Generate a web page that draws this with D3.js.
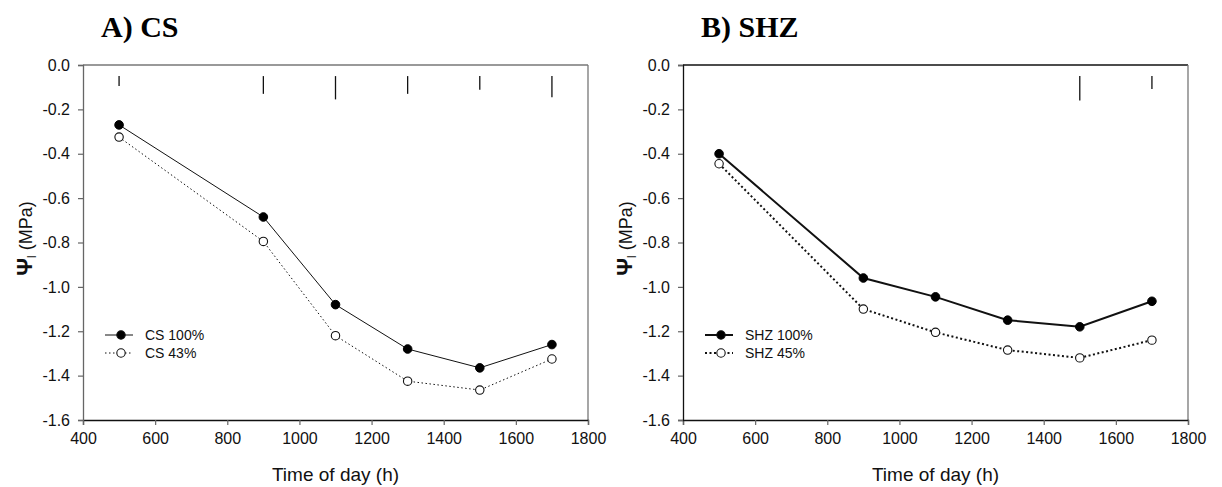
<!DOCTYPE html>
<html>
<head>
<meta charset="utf-8">
<script src="https://cdn.jsdelivr.net/npm/d3@7"></script>
<style>
  html, body { margin: 0; padding: 0; background: #fff; }
  svg { display: block; font-family: "Liberation Sans", Arial, sans-serif; }
</style>
</head>
<body>
<svg id="chart" width="1222" height="487"></svg>
<script>
// Sampling times (h)
const times = [500, 900, 1100, 1300, 1500, 1700];

// Leaf water potential (MPa), cultivar CS
const cs100 = [-0.27, -0.685, -1.08, -1.28, -1.365, -1.26];
const cs43  = [-0.325, -0.795, -1.22, -1.425, -1.465, -1.325];

// Leaf water potential (MPa), cultivar SHZ
const shz100 = [-0.40, -0.96, -1.045, -1.15, -1.18, -1.065];
const shz45  = [-0.445, -1.10, -1.205, -1.285, -1.32, -1.24];

// LSD bars drawn along the top of each panel
const csLsdTimes = [500, 900, 1100, 1300, 1500, 1700];
const csLsd = [0.045, 0.08, 0.105, 0.08, 0.062, 0.095];
const shzLsdTimes = [1500, 1700];
const shzLsd = [0.11, 0.058];
const lsdTop = -0.05;

// Axis ticks
const xTicks = [400, 600, 800, 1000, 1200, 1400, 1600, 1800];
const yTicks = [0, -0.2, -0.4, -0.6, -0.8, -1.0, -1.2, -1.4, -1.6];

const svg = d3.select("#chart");

function panel(opts) {
  const { left, right, top, bottom } = opts;
  const x = d3.scaleLinear().domain([400, 1800]).range([left, right]);
  const y = d3.scaleLinear().domain([-1.6, 0]).range([bottom, top]);
  const g = svg.append("g");

  // frame: top and right edges
  g.append("line").attr("x1", left).attr("x2", right).attr("y1", top).attr("y2", top)
    .attr("stroke", opts.topColor).attr("stroke-width", 1.3);
  g.append("line").attr("x1", right).attr("x2", right).attr("y1", top).attr("y2", bottom)
    .attr("stroke", "#777").attr("stroke-width", 1.3);

  // x axis
  const xa = g.append("g").attr("transform", `translate(0,${bottom})`)
    .call(d3.axisBottom(x).tickValues(xTicks).tickFormat(d3.format("d")).tickSizeOuter(0).tickSize(5).tickPadding(8));
  xa.select(".domain").attr("stroke", "#111").attr("stroke-width", 1.3);
  xa.selectAll(".tick line").attr("stroke", "#666").attr("stroke-width", 1.2);
  xa.selectAll(".tick text").attr("font-size", 16).attr("fill", "#111")
    .attr("font-family", "Liberation Sans, Arial, sans-serif");

  // y axis
  const ya = g.append("g").attr("transform", `translate(${left},0)`)
    .call(d3.axisLeft(y).tickValues(yTicks).tickFormat(d3.format(".1f")).tickSizeOuter(0).tickSize(5).tickPadding(8));
  ya.select(".domain").attr("stroke", opts.yAxisColor).attr("stroke-width", 1.3);
  ya.selectAll(".tick line").attr("stroke", "#666").attr("stroke-width", 1.2);
  ya.selectAll(".tick text").attr("font-size", 16).attr("fill", "#111")
    .attr("font-family", "Liberation Sans, Arial, sans-serif")
    .text(d => d3.format(".1f")(d).replace("−", "-"));

  // panel title
  g.append("text").attr("x", left + 18).attr("y", 37)
    .attr("font-family", "Liberation Serif, Times New Roman, serif")
    .attr("font-weight", "bold").attr("font-size", 30).attr("fill", "#000")
    .text(opts.title);

  // axis titles
  g.append("text").attr("x", (left + right) / 2).attr("y", 481)
    .attr("text-anchor", "middle").attr("font-size", 19).attr("fill", "#111")
    .text("Time of day (h)");
  const yl = g.append("text")
    .attr("transform", `translate(${left - 51},${(top + bottom) / 2 - 4}) rotate(-90)`)
    .attr("text-anchor", "middle").attr("font-size", 18).attr("fill", "#111");
  yl.append("tspan").attr("font-weight", "bold").attr("font-size", 22).text("Ψ");
  yl.append("tspan").attr("font-size", 12).attr("dy", 4).text("l");
  yl.append("tspan").attr("dy", -4).text(" (MPa)");

  // LSD bars
  g.selectAll("line.lsd").data(opts.lsdTimes.map((t, i) => [t, opts.lsd[i]]))
    .join("line").attr("class", "lsd")
    .attr("x1", d => x(d[0])).attr("x2", d => x(d[0]))
    .attr("y1", y(lsdTop)).attr("y2", d => y(lsdTop - d[1]))
    .attr("stroke", "#111").attr("stroke-width", 1.3);

  const line = d3.line().x(d => x(d[0])).y(d => y(d[1]));
  const full = times.map((t, i) => [t, opts.s1[i]]);
  const dry = times.map((t, i) => [t, opts.s2[i]]);

  g.append("path").datum(dry).attr("d", line).attr("fill", "none")
    .attr("stroke", "#111").attr("stroke-width", opts.lw).attr("stroke-dasharray", opts.dash);
  g.append("path").datum(full).attr("d", line).attr("fill", "none")
    .attr("stroke", "#111").attr("stroke-width", opts.lw);

  g.selectAll("circle.dry").data(dry).join("circle").attr("class", "dry")
    .attr("cx", d => x(d[0])).attr("cy", d => y(d[1])).attr("r", 4.2)
    .attr("fill", "#fff").attr("stroke", "#111").attr("stroke-width", 1.1);
  g.selectAll("circle.full").data(full).join("circle").attr("class", "full")
    .attr("cx", d => x(d[0])).attr("cy", d => y(d[1])).attr("r", 4.3)
    .attr("fill", "#000").attr("stroke", "#000").attr("stroke-width", 1);

  // legend
  const lx = left + 22, ly1 = 335, ly2 = 353;
  const leg = g.append("g");
  [[ly1, opts.names[0], true], [ly2, opts.names[1], false]].forEach(([yy, name, filled]) => {
    leg.append("line").attr("x1", lx).attr("x2", lx + 28).attr("y1", yy).attr("y2", yy)
      .attr("stroke", "#111").attr("stroke-width", opts.lw)
      .attr("stroke-dasharray", filled ? null : opts.dash);
    leg.append("circle").attr("cx", lx + 16).attr("cy", yy).attr("r", 4.2)
      .attr("fill", filled ? "#000" : "#fff").attr("stroke", "#111").attr("stroke-width", 1.1);
    leg.append("text").attr("x", lx + 40).attr("y", yy + 5)
      .attr("font-size", 14).attr("fill", "#111").text(name);
  });
}

panel({
  left: 83, right: 588, top: 65, bottom: 420,
  title: "A) CS", s1: cs100, s2: cs43, names: ["CS 100%", "CS 43%"],
  lsdTimes: csLsdTimes, lsd: csLsd, lw: 1, dash: "1.5,2.5",
  topColor: "#777", yAxisColor: "#666"
});
panel({
  left: 683, right: 1188, top: 65, bottom: 420,
  title: "B) SHZ", s1: shz100, s2: shz45, names: ["SHZ 100%", "SHZ 45%"],
  lsdTimes: shzLsdTimes, lsd: shzLsd, lw: 2, dash: "2,2.5",
  topColor: "#111", yAxisColor: "#111"
});
</script>
</body>
</html>
